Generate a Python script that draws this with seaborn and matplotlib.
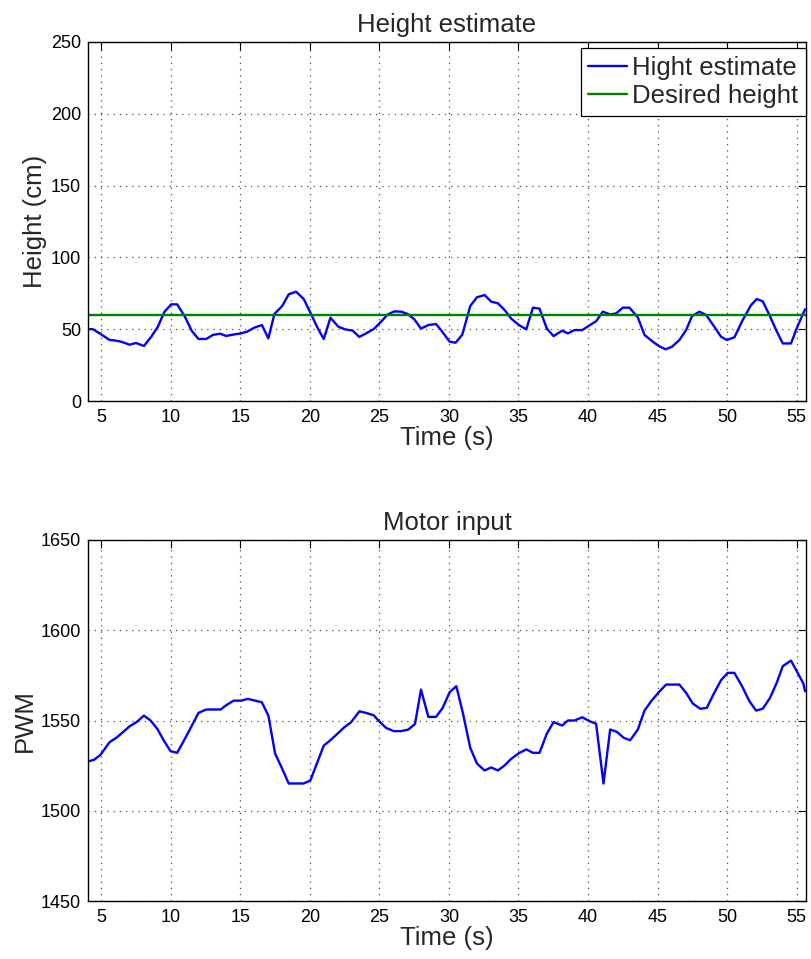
import matplotlib
matplotlib.use("Agg")
import matplotlib.pyplot as plt
import seaborn as sns
import pandas as pd

# ---- Data ----
height_time = [4.05, 4.4, 4.9, 5.6, 5.96, 6.44, 7.04, 7.5, 8.07, 8.6, 9.07, 9.55, 10.03, 10.46,
               10.99, 11.52, 11.99, 12.55, 13.03, 13.55, 13.98, 14.58, 15.06, 15.49, 16.02, 16.55,
               17.02, 17.45, 18.01, 18.48, 19.01, 19.56, 20.04, 20.57, 21.0, 21.48, 22.05, 22.53,
               23.08, 23.56, 24.04, 24.59, 25.12, 25.6, 26.08, 26.56, 27.03, 27.51, 27.99, 28.52,
               29.07, 29.43, 30.05, 30.48, 30.96, 31.53, 32.01, 32.56, 33.04, 33.52, 34.0, 34.48,
               35.03, 35.56, 36.04, 36.51, 37.04, 37.52, 38.14, 38.55, 39.03, 39.58, 40.11, 40.58,
               41.06, 41.59, 42.02, 42.5, 42.98, 43.58, 44.06, 44.66, 45.09, 45.57, 46.04, 46.57,
               47.05, 47.48, 48.01, 48.49, 49.01, 49.56, 49.97, 50.52, 51.12, 51.72, 52.13, 52.56,
               53.04, 53.52, 54.0, 54.59, 55.07, 55.6]
height_est = [50.1, 50.0, 47.0, 42.5, 42.2, 41.3, 39.2, 40.4, 38.3, 44.8, 51.7, 62.2, 67.3, 67.3,
              59.2, 48.7, 43.2, 43.2, 46.0, 46.9, 45.3, 46.4, 47.1, 48.3, 51.1, 52.9,
              43.6, 60.6, 66.1, 74.3, 76.1, 71.0, 61.5, 50.6, 43.2, 58.0, 51.7, 49.9,
              49.0, 44.6, 47.1, 50.1, 55.2, 60.3, 62.4, 62.2, 60.6, 56.9, 50.4, 52.9,
              53.6, 49.4, 41.3, 40.6, 46.2, 66.1, 72.2, 73.8, 69.2, 68.0, 63.4, 57.3,
              52.9, 49.9, 65.0, 64.3, 50.4, 45.2, 49.0, 47.1, 49.4, 49.4, 52.7, 55.5,
              62.2, 60.3, 61.0, 65.0, 65.0, 58.2, 46.0, 41.3, 38.3, 36.0, 37.8, 42.5,
              49.4, 59.2, 62.2, 59.9, 52.7, 44.8, 42.5, 44.3, 56.4, 66.8, 71.0, 69.4,
              59.9, 49.4, 40.1, 40.1, 52.2, 63.8]
desired_time = [4.05, 55.67]
desired_height = [60, 60]

pwm_time = [4.05, 4.48, 4.95, 5.6, 6.08, 6.56, 7.04, 7.52, 8.07, 8.55, 9.03, 9.5, 9.98, 10.46,
            10.99, 11.52, 11.99, 12.55, 13.1, 13.58, 14.05, 14.53, 15.06, 15.54, 16.07, 16.55,
            17.02, 17.5, 17.98, 18.48, 19.01, 19.56, 20.04, 20.52, 21.0, 21.48, 22.0, 22.48,
            22.96, 23.56, 24.04, 24.59, 24.9, 25.48, 26.03, 26.56, 27.08, 27.56, 27.99, 28.52,
            29.07, 29.55, 30.05, 30.53, 31.01, 31.53, 32.01, 32.56, 33.04, 33.52, 34.0, 34.48,
            35.03, 35.56, 36.04, 36.51, 37.04, 37.52, 38.14, 38.55, 39.03, 39.58, 40.11, 40.58,
            41.11, 41.59, 42.07, 42.57, 43.03, 43.58, 44.06, 44.54, 45.09, 45.61, 46.09, 46.57,
            47.05, 47.53, 48.06, 48.54, 49.01, 49.56, 50.04, 50.52, 51.07, 51.6, 52.08, 52.56,
            53.08, 53.56, 54.0, 54.59, 55.07, 55.48, 55.6]
pwm = [1527.3, 1528.2, 1531.0, 1538.0, 1540.4, 1543.5, 1546.8, 1549.0, 1552.7, 1550.0, 1545.4, 1538.9, 1533.0, 1532.1,
       1539.5, 1547.2, 1554.2, 1556.1, 1556.1, 1556.1, 1558.8, 1561.0, 1561.0, 1562.0, 1561.0, 1560.1,
       1552.7, 1531.7, 1523.8, 1515.1, 1515.1, 1515.1, 1516.8, 1526.5, 1536.1, 1539.1, 1542.8, 1546.3,
       1549.0, 1555.1, 1554.2, 1552.9, 1550.2, 1545.9, 1544.1, 1544.1, 1545.0, 1548.1, 1567.1, 1552.0,
       1552.0, 1557.0, 1565.7, 1569.0, 1553.9, 1534.9, 1526.2, 1522.3, 1524.0, 1522.3, 1525.1, 1528.8,
       1531.9, 1534.0, 1532.1, 1532.1, 1542.8, 1549.1, 1547.2, 1550.0, 1550.0, 1551.8, 1549.6, 1548.2,
       1515.1, 1545.0, 1543.7, 1540.4, 1539.1, 1545.0, 1555.5, 1560.7, 1565.7, 1569.9, 1569.9, 1569.9,
       1565.3, 1559.4, 1556.5, 1557.0, 1564.4, 1572.3, 1576.4, 1576.4, 1569.0, 1560.7, 1555.5, 1556.5,
       1562.5, 1570.8, 1580.1, 1583.2, 1576.4, 1570.5, 1566.2]

x_ticks = [5, 10, 15, 20, 25, 30, 35, 40, 45, 50, 55]
height_ticks = [0, 50, 100, 150, 200, 250]
pwm_ticks = [1450, 1500, 1550, 1600, 1650]

# ---- Style ----
sns.set_style("white")
plt.rcParams['font.family'] = ['Liberation Sans', 'DejaVu Sans']

fig = plt.figure(figsize=(8.11, 9.59), dpi=100)
ax1 = fig.add_axes([88 / 811, 1 - 401 / 959, 718 / 811, 359 / 959])
ax2 = fig.add_axes([88 / 811, 1 - 901 / 959, 718 / 811, 361 / 959])

BLUE = (0, 0, 1)
GREEN = (0, 0.5, 0)

df_h = pd.DataFrame({"t": height_time, "h": height_est})
df_d = pd.DataFrame({"t": desired_time, "h": desired_height})
df_p = pd.DataFrame({"t": pwm_time, "p": pwm})

sns.lineplot(data=df_h, x="t", y="h", ax=ax1, color=BLUE, lw=1.7, label="Hight estimate",
             estimator=None, sort=False)
sns.lineplot(data=df_d, x="t", y="h", ax=ax1, color=GREEN, lw=1.7, label="Desired height",
             estimator=None, sort=False)
sns.lineplot(data=df_p, x="t", y="p", ax=ax2, color=BLUE, lw=1.7, estimator=None, sort=False,
             legend=False)

LABEL_FS = 18.5


def style(ax, yticks, title, ylabel):
    ax.set_xlim(4.05, 55.67)
    ax.set_ylim(yticks[0], yticks[-1])
    ax.set_xticks(x_ticks)
    ax.set_yticks(yticks)
    ax.tick_params(direction="in", length=6, width=0.8, top=True, right=True,
                   labelsize=13, colors="black")
    ax.tick_params(axis="x", pad=6)
    ax.tick_params(axis="y", pad=5)
    for s in ax.spines.values():
        s.set_visible(True)
        s.set_color("black")
        s.set_linewidth(1.0)
    ax.grid(True, color=(0.3, 0.3, 0.3), linestyle=(0, (1, 4)), linewidth=0.9)
    ax.set_title(title, fontsize=LABEL_FS, pad=7)
    ax.set_xlabel("Time (s)", fontsize=LABEL_FS, labelpad=0)
    ax.set_ylabel(ylabel, fontsize=LABEL_FS, labelpad=3)


style(ax1, height_ticks, "Height estimate", "Height (cm)")
style(ax2, pwm_ticks, "Motor input", "PWM")

leg = ax1.legend(loc="upper right", bbox_to_anchor=(1.0, 0.983), fontsize=LABEL_FS,
                 frameon=True, fancybox=False, edgecolor="black", framealpha=1,
                 borderaxespad=0.0, handlelength=1.5, handletextpad=0.2, borderpad=0.3,
                 labelspacing=0.18)
leg.get_frame().set_linewidth(0.9)

fig.savefig("out.png", dpi=100)
